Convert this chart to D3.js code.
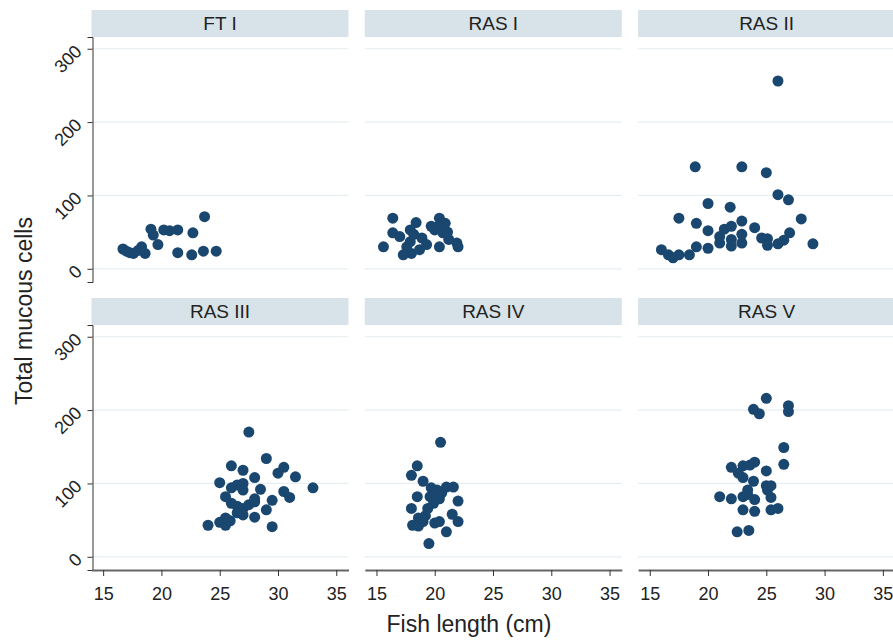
<!DOCTYPE html>
<html lang="en">
<head>
<meta charset="UTF-8">
<title>Total mucous cells by fish length</title>
<script src="https://d3js.org/d3.v7.min.js"></script>
<style>
  body { margin: 0; background: #fff; }
  text { font-family: "Liberation Sans", Arial, sans-serif; fill: #222; }
</style>
</head>
<body>
<svg id="chart" width="893" height="640"></svg>
<script>
// panel names, in reading order
const panels = ["FT I", "RAS I", "RAS II", "RAS III", "RAS IV", "RAS V"];

// fish length (cm) and total mucous cells
const ftI_len = [16.7, 17.0, 17.3, 17.6, 18.0, 18.3, 18.6, 19.1, 19.3, 19.7, 20.2, 20.7, 21.4, 22.7, 21.4, 22.6, 23.6, 24.7, 23.7];
const ftI_mc  = [27, 24, 22, 21, 25, 30, 21, 54, 46, 33, 53, 52, 53, 49, 22, 19, 24, 24, 71];

const rasI_len = [16.4, 15.6, 16.4, 17.0, 17.9, 18.4, 17.6, 18.0, 18.7, 18.9, 20.4, 20.9, 20.0, 20.7, 20.4, 21.2, 22.0, 21.9, 17.3, 17.9, 19.3, 19.7, 18.2, 20.2, 21.1];
const rasI_mc  = [69, 30, 49, 44, 53, 63, 30, 21, 26, 42, 69, 62, 53, 49, 30, 40, 30, 35, 19, 37, 33, 58, 47, 57, 50];

const rasII_len = [26.0, 18.9, 22.9, 25.0, 26.0, 26.9, 20.0, 21.9, 17.5, 28.0, 19.0, 20.0, 21.4, 22.0, 22.9, 24.0, 21.0, 21.0, 22.0, 22.0, 22.9, 22.9, 24.6, 25.1, 25.1, 26.0, 26.5, 27.0, 29.0, 16.0, 16.6, 17.0, 17.5, 18.4, 19.0, 20.0];
const rasII_mc  = [256, 139, 139, 131, 101, 94, 89, 84, 69, 68, 62, 52, 54, 58, 65, 56, 44, 35, 40, 31, 47, 35, 42, 41, 32, 34, 39, 49, 34, 26, 19, 15, 19, 19, 30, 28];

const rasIII_len = [27.5, 29.0, 26.0, 27.0, 30.0, 30.5, 31.5, 28.0, 25.0, 33.0, 26.0, 26.5, 27.0, 27.0, 28.5, 30.5, 31.0, 25.5, 28.0, 29.5, 26.0, 26.5, 27.0, 27.5, 28.0, 29.0, 27.0, 28.0, 24.0, 25.0, 25.5, 25.9, 25.5, 29.5, 26.5];
const rasIII_mc  = [170, 134, 124, 118, 114, 122, 109, 108, 101, 94, 94, 98, 100, 91, 92, 89, 81, 82, 79, 77, 73, 69, 66, 71, 75, 64, 57, 54, 43, 47, 43, 49, 53, 41, 60];

const rasIV_len = [20.5, 18.5, 18.0, 19.0, 19.7, 20.2, 21.0, 21.6, 18.5, 19.6, 20.4, 19.9, 22.0, 18.0, 19.4, 21.5, 22.0, 18.6, 19.0, 18.1, 18.6, 20.0, 20.4, 21.0, 19.5, 19.2, 20.6];
const rasIV_mc  = [156, 124, 111, 103, 94, 91, 95, 95, 82, 82, 79, 73, 76, 66, 66, 58, 48, 53, 48, 43, 42, 46, 48, 34, 18, 56, 87];

const rasV_len = [25.0, 23.9, 24.4, 26.9, 26.9, 26.5, 26.5, 22.0, 22.6, 23.0, 23.6, 24.0, 23.0, 25.0, 23.9, 25.0, 25.4, 25.1, 23.4, 21.0, 22.0, 23.0, 23.4, 24.0, 25.4, 23.0, 24.0, 25.4, 26.0, 22.5, 23.5];
const rasV_mc  = [216, 201, 195, 206, 198, 149, 126, 122, 114, 124, 125, 129, 108, 117, 103, 97, 97, 91, 91, 82, 79, 82, 85, 78, 81, 64, 62, 64, 66, 34, 36];

const lengths = [ftI_len, rasI_len, rasII_len, rasIII_len, rasIV_len, rasV_len];
const cells   = [ftI_mc, rasI_mc, rasII_mc, rasIII_mc, rasIV_mc, rasV_mc];

const xTicks = [15, 20, 25, 30, 35];
const yTicks = [0, 100, 200, 300];

const svg = d3.select("#chart");

const colLeft = [91.5, 364.8, 638.1];
const panelW = 257;
const rowTop = [10, 298];
const headH = 27;
const plotH = 245;

const dotColor = "#1a476f";
const gridColor = "#e6eef1";
const stripColor = "#d7e3e8";

panels.forEach(function (name, i) {
  const col = i % 3, row = Math.floor(i / 3);
  const x0 = colLeft[col], top = rowTop[row];
  const plotTop = top + headH;

  const x = d3.scaleLinear().domain([14, 36.05]).range([x0, x0 + panelW]);
  const y = d3.scaleLinear().domain([-18, 316]).range([plotTop + plotH, plotTop]);

  const g = svg.append("g");

  // strip header
  g.append("rect")
    .attr("x", x0).attr("y", top)
    .attr("width", panelW).attr("height", headH)
    .attr("fill", stripColor);
  g.append("text")
    .attr("x", x0 + panelW / 2).attr("y", top + headH / 2)
    .attr("dy", "0.36em")
    .attr("text-anchor", "middle")
    .attr("font-size", 19)
    .text(name);

  // gridlines
  g.selectAll(".grid").data(yTicks).enter().append("line")
    .attr("x1", x0).attr("x2", x0 + panelW)
    .attr("y1", d => y(d)).attr("y2", d => y(d))
    .attr("stroke", gridColor).attr("stroke-width", 1.2);

  // y axis on the first column only
  if (col === 0) {
    const ya = g.append("g")
      .attr("transform", "translate(" + (x0 + 1) + ",0)")
      .call(d3.axisLeft(y).tickValues(yTicks).tickSize(5).tickPadding(3));
    ya.select(".domain").attr("stroke", "#333");
    ya.selectAll(".tick line").attr("stroke", "#333");
    ya.selectAll(".tick text")
      .attr("font-size", 18)
      .attr("font-family", "Liberation Sans, Arial, sans-serif")
      .attr("fill", "#222")
      .attr("text-anchor", "end")
      .attr("x", -14).attr("y", -1).attr("dy", "0.35em")
      .attr("transform", "rotate(-45 -14 -1)");
  }

  // x axis on the bottom row
  if (row === 1) {
    const xa = g.append("g")
      .attr("transform", "translate(0," + (plotTop + plotH) + ")")
      .call(d3.axisBottom(x).tickValues(xTicks).tickSize(6).tickSizeOuter(0).tickPadding(11));
    xa.select(".domain").attr("stroke", "#666").attr("stroke-width", 2);
    xa.selectAll(".tick line").attr("stroke", "#333");
    xa.selectAll(".tick text")
      .attr("font-size", 18)
      .attr("font-family", "Liberation Sans, Arial, sans-serif")
      .attr("fill", "#222");
  }

  // points
  g.selectAll(".dot").data(d3.zip(lengths[i], cells[i])).enter().append("circle")
    .attr("cx", d => x(d[0]))
    .attr("cy", d => y(d[1]))
    .attr("r", 5.5)
    .attr("fill", dotColor);
});

// axis titles
svg.append("text")
  .attr("transform", "translate(32,311) rotate(-90)")
  .attr("text-anchor", "middle")
  .attr("font-size", 23)
  .text("Total mucous cells");

svg.append("text")
  .attr("x", 469).attr("y", 632)
  .attr("text-anchor", "middle")
  .attr("font-size", 23)
  .text("Fish length (cm)");
</script>
</body>
</html>
